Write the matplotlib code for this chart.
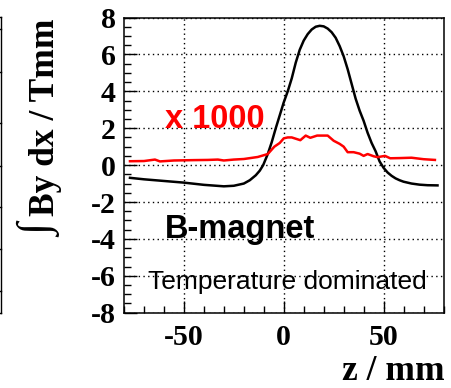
import matplotlib
matplotlib.use("Agg")
import matplotlib.pyplot as plt
from matplotlib.lines import Line2D
from matplotlib.ticker import MultipleLocator

# Integrated field along the magnet axis
z_field = [-77, -70, -60, -50, -40, -30, -25, -20, -17, -14, -12, -10.3, -8, -6, -4, -2,
           0, 2, 4, 6, 8, 10, 12, 14, 16, 18, 20, 22, 24, 26, 28, 30, 32, 34, 36, 38,
           40, 42, 44, 46, 48, 50, 52, 54, 56, 58, 60, 64, 68, 72, 77]
by_field = [-0.69, -0.77, -0.86, -0.95, -1.07, -1.15, -1.12, -1.0, -0.82, -0.55, -0.3, 0.0,
            0.6, 1.25, 2.0, 2.7, 3.4, 4.0, 4.7, 5.55, 6.25, 6.75, 7.1, 7.35, 7.5, 7.55,
            7.52, 7.4, 7.2, 6.9, 6.45, 5.9, 5.2, 4.4, 3.6, 2.95, 2.4, 1.75, 1.2, 0.75,
            0.2, -0.15, -0.4, -0.58, -0.72, -0.82, -0.9, -1.0, -1.06, -1.09, -1.1]

# Temperature-induced variation, scaled by 1000
z_temp = [-77, -70, -64.5, -62, -55, -45, -38, -33, -30, -25, -20, -13, -8, -4.7, -2,
          0, 2, 4, 8.3, 11, 13.3, 16.7, 20, 22, 25, 28, 30, 32, 35, 38, 40, 42, 45,
          47, 50.7, 53.3, 58, 64, 70, 75.7]
dby_temp = [0.21, 0.22, 0.3, 0.2, 0.25, 0.27, 0.28, 0.3, 0.25, 0.3, 0.33, 0.44, 0.6,
            1.0, 1.2, 1.45, 1.5, 1.5, 1.35, 1.6, 1.48, 1.6, 1.6, 1.6, 1.32, 1.15, 1.0,
            0.7, 0.7, 0.62, 0.5, 0.6, 0.48, 0.43, 0.5, 0.37, 0.38, 0.4, 0.32, 0.28]

x_ticks = [-50, 0, 50]
y_ticks = [-8, -6, -4, -2, 0, 2, 4, 6, 8]

W, H = 452, 388
fig = plt.figure(figsize=(W / 100, H / 100), dpi=100)
ax = fig.add_axes([124 / W, 1 - 312.7 / H, (443.5 - 124) / W, (312.7 - 17.5) / H])

ax.plot(z_field, by_field, color="black", lw=1.8, zorder=3)
ax.plot(z_temp, dby_temp, color="#ff0000", lw=1.8, zorder=3)

ax.set_xlim(-80, 80)
ax.set_ylim(-8, 8)
ax.set_xticks(x_ticks)
ax.set_yticks(y_ticks)
ax.xaxis.set_minor_locator(MultipleLocator(10))
ax.yaxis.set_minor_locator(MultipleLocator(0.5))
ax.grid(True, which="major", color="black", lw=1.0, linestyle=(0, (1, 2.4)))
ax.set_axisbelow(True)

for s in ax.spines.values():
    s.set_linewidth(1.1)

ax.tick_params(which="both", direction="in", top=False, right=False, width=1.0)
ax.tick_params(which="major", length=9)
ax.tick_params(which="minor", length=5)
ax.tick_params(axis="y", which="major", pad=6)
ax.tick_params(axis="x", which="major", pad=8)

serif_bold = dict(family="Liberation Serif", weight="bold", size=21.5)
ax.set_xticklabels([str(v) for v in x_ticks], fontdict=serif_bold)
ax.set_yticklabels([str(v) for v in y_ticks], fontdict=serif_bold)

ax.text(-59.5, 2.0, "x 1000", color="#ff0000", family="Liberation Sans",
        weight="bold", size=23.5, ha="left", va="baseline")
ax.text(-59.5, -3.95, "B-magnet", color="black", family="Liberation Sans",
        weight="bold", size=23.5, ha="left", va="baseline")
ax.text(-67.8, -6.71, "Temperature dominated", color="black",
        family="Liberation Sans", size=19, ha="left", va="baseline")

# Axis titles
fig.text(445 / W, 1 - 379.5 / H, "z / mm", family="Liberation Serif", weight="bold",
         size=25.5, ha="right", va="baseline")
fig.text(54 / W, 1 - 18 / H, "By dx / Tmm", family="Liberation Serif",
         weight="bold", size=25.5, rotation=90, rotation_mode="anchor",
         ha="right", va="baseline")
fig.text(41 / W, 1 - 231 / H, "\u222b", family="Liberation Serif",
         weight="bold", size=32, rotation=90, ha="center", va="center")

# Right edge of the neighbouring panel
fx = 1.5 / W
fig.add_artist(Line2D([fx, fx], [1 - 313 / H, 1 - 17.3 / H], color="black",
                      lw=1.0, transform=fig.transFigure))
for py in [17.3, 29, 72, 123, 166, 207, 249, 291, 313]:
    fig.add_artist(Line2D([0, fx], [1 - py / H, 1 - py / H], color="black",
                          lw=1.0, transform=fig.transFigure))

fig.savefig("out.png", dpi=100)
